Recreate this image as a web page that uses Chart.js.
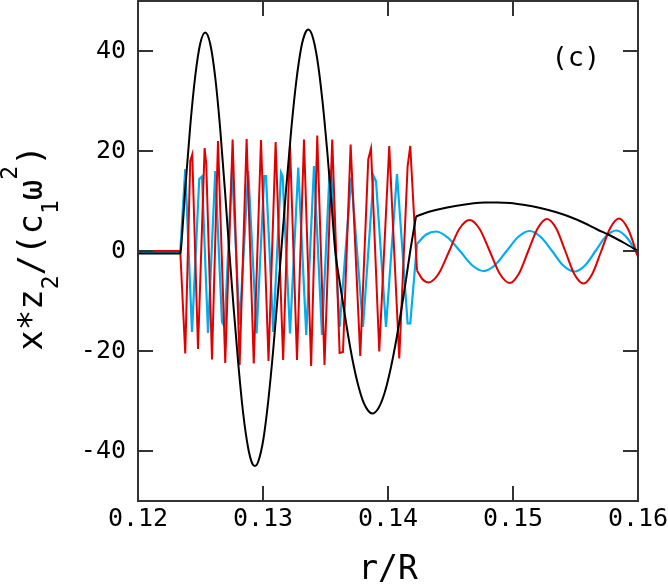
<!DOCTYPE html>
<html>
<head>
<meta charset="utf-8">
<script src="https://cdn.jsdelivr.net/npm/chart.js@4.4.0/dist/chart.umd.min.js"></script>
<style>
  html, body { margin: 0; padding: 0; background: #ffffff; }
  #wrap { width: 668px; height: 584px; }
</style>
</head>
<body>
<div id="wrap"><canvas id="c" width="668" height="584"></canvas></div>
<script>
// ---- tick values ----
const xTicks = [0.12, 0.13, 0.14, 0.15, 0.16];
const yTicks = [-40, -20, 0, 20, 40];

// ---- black curve ----
const blackOscX = [0.12000, 0.12338, 0.12342, 0.12378, 0.12418, 0.12458, 0.12498, 0.12538, 0.12578, 0.12618, 0.12658, 0.12698, 0.12730, 0.12762, 0.12802, 0.12842, 0.12882, 0.12914, 0.12935, 0.12962, 0.13002, 0.13042, 0.13082, 0.13114, 0.13146, 0.13186, 0.13226, 0.13266, 0.13306, 0.13338, 0.13362, 0.13394, 0.13434, 0.13474, 0.13514, 0.13546, 0.13578, 0.13618, 0.13666, 0.13714, 0.13762, 0.13810, 0.13874, 0.13922, 0.13970, 0.14018, 0.14066, 0.14114, 0.14146, 0.14178, 0.14224];
const blackOscY = [-0.5, -0.5, 0, 12.4, 25.0, 35.0, 41.5, 43.7, 41.4, 34.7, 24.3, 11.3, 0, -10.4, -22.5, -32.6, -39.5, -42.5, -43.0, -42.1, -37.8, -30.0, -19.7, -10.1, 0, 12.7, 24.3, 33.9, 40.7, 43.6, 44.3, 43.1, 38.4, 30.4, 19.9, 10.2, 0, -6.9, -14.6, -21.5, -26.9, -30.6, -32.5, -31.5, -28.6, -23.9, -17.8, -10.6, -5.4, 0, 6.9];
const blackArcX = [0.14224, 0.14298, 0.14418, 0.14538, 0.14658, 0.14778, 0.14874, 0.14978, 0.15082, 0.15218, 0.15354, 0.15458, 0.15562, 0.15674, 0.15778, 0.15890, 0.16000];
const blackArcY = [6.9, 7.6, 8.4, 9.0, 9.45, 9.7, 9.7, 9.6, 9.25, 8.6, 7.7, 6.8, 5.7, 4.3, 3.1, 1.6, 0];

// ---- red curve ----
const redFastX = [0.12000, 0.12338, 0.12378, 0.12418, 0.12434, 0.12480, 0.12533, 0.12546, 0.12592, 0.12640, 0.12698, 0.12757, 0.12813, 0.12869, 0.12926, 0.12984, 0.13044, 0.13101, 0.13161, 0.13216, 0.13272, 0.13328, 0.13385, 0.13434, 0.13492, 0.13554, 0.13613, 0.13640, 0.13701, 0.13778, 0.13842, 0.13864, 0.13930, 0.14010, 0.14090, 0.14157, 0.14178, 0.14232];
const redFastY = [0, 0, -20.5, 18, 19.3, -19.6, 20.6, 17.4, -21.7, 22, -22.4, 22.3, -22.8, 22.4, -22.5, 22.2, -22, 21.8, -21.8, 21.3, -21.8, 22.3, -23, 23.1, -22.8, 22.3, -20.4, -20.2, 21.3, -21, 18.3, 20.5, -20.1, 21, -21.5, 17, 21, -3.9];
const redSlowX = [0.14232, 0.14274, 0.14325, 0.14406, 0.14490, 0.14570, 0.14653, 0.14733, 0.14813, 0.14893, 0.14973, 0.15048, 0.15122, 0.15197, 0.15272, 0.15346, 0.15418, 0.15490, 0.15565, 0.15634, 0.15706, 0.15778, 0.15848, 0.15922, 0.16000];
const redSlowY = [-3.9, -5.6, -6.3, -4.5, 0, 4.4, 6.2, 4.4, 0, -4.5, -6.4, -4.5, 0, 4.5, 6.4, 4.5, 0, -4.6, -6.5, -4.6, 0, 4.6, 6.5, 4.3, -1.2];

// ---- blue curve ----
const blueFastX = [0.12000, 0.12338, 0.12378, 0.12432, 0.12490, 0.12512, 0.12560, 0.12618, 0.12672, 0.12693, 0.12752, 0.12813, 0.12882, 0.12949, 0.13010, 0.13024, 0.13082, 0.13144, 0.13157, 0.13216, 0.13282, 0.13346, 0.13408, 0.13472, 0.13533, 0.13546, 0.13613, 0.13706, 0.13800, 0.13885, 0.13904, 0.13984, 0.14072, 0.14157, 0.14178, 0.14232];
const blueFastY = [-0.25, -0.25, 16.4, -16.2, 14.4, 14.9, -16.4, 16, -14.2, -15.2, 16.5, -14.8, 16, -16.5, 15, 15, -16.2, 15.7, 15, -16.5, 16.7, -16.8, 17, -16.8, 16, 15.7, -15.2, 14.7, -15.2, 15, 14, -15.2, 15.4, -14.5, -14.5, 1.4];
const blueSlowX = [0.14232, 0.14306, 0.14386, 0.14482, 0.14576, 0.14670, 0.14765, 0.14857, 0.14949, 0.15041, 0.15133, 0.15222, 0.15313, 0.15402, 0.15493, 0.15576, 0.15660, 0.15743, 0.15826, 0.15914, 0.16000];
const blueSlowY = [1.4, 3.3, 3.9, 2.6, 0, -2.8, -4, -2.8, 0, 2.8, 4, 2.8, 0, -2.9, -4.1, -2.9, 0, 2.9, 4.1, 2.6, -0.9];

// ---- text ----
const xTitle = 'r/R';
const panelLabel = '(c)';
const yTitleParts = [['x*z', 'n'], ['2', 'sub'], ['/(c', 'n'], ['1', 'sub'], ['\u03c9', 'n'], ['2', 'sup'], [')', 'n']];

const MONO = '"DejaVu Sans Mono", "Liberation Mono", monospace';
const BLACK = '#000000', RED = '#e00000', BLUE = '#00aeef';

function pts(xs, ys) {
  const n = Math.min(xs.length, ys.length);
  const out = [];
  for (let i = 0; i < n; i++) out.push({ x: xs[i], y: ys[i] });
  return out;
}

const framePlugin = {
  id: 'frameTicks',
  afterDatasetsDraw(chart) {
    const { ctx, chartArea: a, scales: { x, y } } = chart;
    ctx.save();
    ctx.strokeStyle = '#333333';
    ctx.lineWidth = 2;
    ctx.beginPath();
    xTicks.forEach(v => {
      const p = x.getPixelForValue(v);
      ctx.moveTo(p, a.bottom); ctx.lineTo(p, a.bottom - 15);
      ctx.moveTo(p, a.top); ctx.lineTo(p, a.top + 15);
    });
    yTicks.forEach(v => {
      const p = y.getPixelForValue(v);
      ctx.moveTo(a.left, p); ctx.lineTo(a.left + 15, p);
      ctx.moveTo(a.right, p); ctx.lineTo(a.right - 15, p);
    });
    ctx.stroke();
    ctx.strokeRect(a.left, a.top, a.right - a.left, a.bottom - a.top);
    ctx.restore();
  },
  afterDraw(chart) {
    const { ctx, chartArea: a, scales: { x, y } } = chart;
    ctx.save();
    // panel label
    ctx.fillStyle = '#000';
    ctx.font = '27px ' + MONO;
    ctx.textAlign = 'center';
    ctx.textBaseline = 'middle';
    ctx.fillText(panelLabel, x.getPixelForValue(0.15503), y.getPixelForValue(38.4));
    // y title with sub/superscripts
    const cy = (a.top + a.bottom) / 2 - 3;
    ctx.translate(42, cy);
    ctx.rotate(-Math.PI / 2);
    ctx.textAlign = 'left';
    ctx.textBaseline = 'alphabetic';
    const fontFor = k => (k === 'n' ? '34px ' : '23px ') + MONO;
    let total = 0;
    yTitleParts.forEach(([t, k]) => { ctx.font = fontFor(k); total += ctx.measureText(t).width; });
    let px = -total / 2;
    yTitleParts.forEach(([t, k]) => {
      ctx.font = fontFor(k);
      const dy = k === 'sub' ? 16 : (k === 'sup' ? -25 : 0);
      ctx.fillText(t, px, dy);
      px += ctx.measureText(t).width;
    });
    ctx.restore();
  }
};

const lineBase = { pointRadius: 0, borderWidth: 2, fill: false };

new Chart(document.getElementById('c'), {
  type: 'line',
  data: {
    datasets: [
      Object.assign({ data: pts(blackOscX, blackOscY), borderColor: BLACK, cubicInterpolationMode: 'monotone', order: 0 }, lineBase),
      Object.assign({ data: pts(blackArcX, blackArcY), borderColor: BLACK, cubicInterpolationMode: 'monotone', order: 0 }, lineBase),
      Object.assign({ data: pts(redFastX, redFastY), borderColor: RED, tension: 0, order: 1 }, lineBase),
      Object.assign({ data: pts(redSlowX, redSlowY), borderColor: RED, cubicInterpolationMode: 'monotone', order: 1 }, lineBase),
      Object.assign({ data: pts(blueFastX, blueFastY), borderColor: BLUE, tension: 0, order: 2 }, lineBase, { borderWidth: 2.2 }),
      Object.assign({ data: pts(blueSlowX, blueSlowY), borderColor: BLUE, cubicInterpolationMode: 'monotone', order: 2 }, lineBase, { borderWidth: 2.2 })
    ]
  },
  options: {
    responsive: false,
    animation: false,
    devicePixelRatio: 1,
    layout: { padding: { left: 0, right: 30, top: 1, bottom: 0 } },
    plugins: { legend: { display: false }, tooltip: { enabled: false } },
    scales: {
      x: {
        type: 'linear', min: 0.12, max: 0.16,
        afterBuildTicks: s => { s.ticks = xTicks.map(v => ({ value: v })); },
        afterFit: s => { s.height = 83; s.paddingLeft = 0; s.paddingRight = 0; },
        grid: { display: false, drawTicks: false },
        border: { display: false },
        ticks: { color: '#000', font: { family: MONO, size: 25 }, padding: 3, maxRotation: 0, autoSkip: false,
                 callback: v => Number(v).toFixed(2) },
        title: { display: true, text: xTitle, color: '#000', font: { family: MONO, size: 33, lineHeight: 0.8 }, padding: { top: 0, bottom: 0 } }
      },
      y: {
        type: 'linear', min: -50, max: 50,
        afterBuildTicks: s => { s.ticks = yTicks.map(v => ({ value: v })); },
        afterFit: s => { s.width = 138; s.paddingTop = 0; s.paddingBottom = 0; },
        grid: { display: false, drawTicks: false },
        border: { display: false },
        ticks: { color: '#000', font: { family: MONO, size: 25 }, padding: 12, autoSkip: false,
                 callback: v => String(v) }
      }
    }
  },
  plugins: [framePlugin]
});
</script>
</body>
</html>
